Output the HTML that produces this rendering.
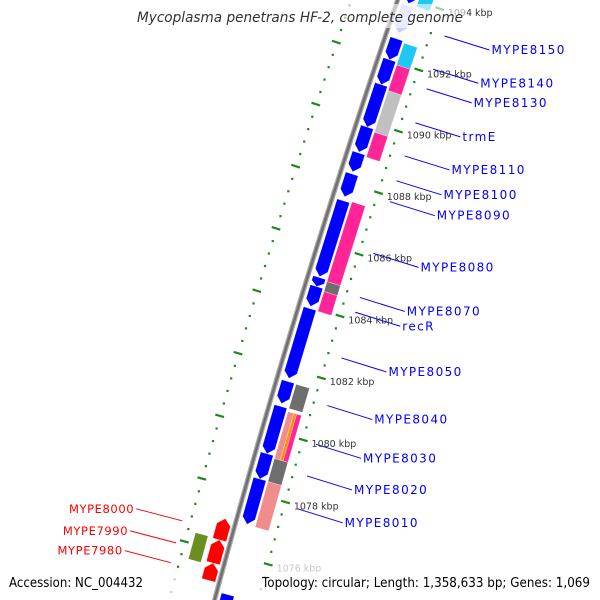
<!DOCTYPE html>
<html><head><meta charset="utf-8"><style>
html,body{margin:0;padding:0;background:#fff;width:600px;height:600px;overflow:hidden;}
svg{display:block;}
text{font-family:"DejaVu Sans","Liberation Sans",sans-serif;}
</style></head><body>
<svg id="map" width="600" height="600" viewBox="0 0 600 600" xmlns="http://www.w3.org/2000/svg">
<rect width="600" height="600" fill="#fff"/>
<g id="rings"></g>
<g id="backbone"></g>
<g id="features"></g>
<g id="labels"></g>
<g id="ticklabels"></g>
<rect x="133" y="4" width="334" height="24" fill="#fff" fill-opacity="0.6"/>
<text x="300" y="22" text-anchor="middle" font-size="14" font-style="italic" fill="#333" textLength="326" lengthAdjust="spacingAndGlyphs">Mycoplasma penetrans HF-2, complete genome</text>
<rect x="4" y="572" width="172" height="24" fill="#fff" fill-opacity="0.7"/>
<text x="9" y="587" font-size="13" fill="#000" textLength="134" lengthAdjust="spacingAndGlyphs">Accession: NC_004432</text>
<rect x="256" y="572" width="340" height="24" fill="#fff" fill-opacity="0.7"/>
<text x="262" y="587" font-size="13" fill="#000" textLength="328" lengthAdjust="spacingAndGlyphs">Topology: circular; Length: 1,358,633 bp; Genes: 1,069</text>
</svg>
<script>
// ---- data (kbp) ----
const blueStart = [1094.6,1093.78,1092.69,1092.01,1091.20,1089.82,1088.98,1088.30,1087.43,1084.95,1084.66,1083.95,1081.60,1080.80,1079.28,1078.47,1074.77];
const blueEnd   = [1093.84,1092.88,1092.01,1091.20,1089.82,1089.01,1088.37,1087.56,1084.98,1084.66,1084.02,1081.70,1080.89,1079.28,1078.47,1077.02,1074.2];
const blueColor = ["#0000ff","#ccccff","#0000ff","#0000ff","#0000ff","#0000ff","#0000ff","#0000ff","#0000ff","#0000ff","#0000ff","#0000ff","#0000ff","#0000ff","#0000ff","#0000ff","#0000ff"];
const catStart = [1094.6,1092.64,1091.93,1091.09,1089.74,1087.48,1084.90,1084.58,1081.59,1080.71,1079.20,1078.46];
const catEnd   = [1093.83,1091.93,1091.09,1089.74,1088.93,1084.90,1084.58,1083.94,1080.81,1079.20,1078.46,1077.00];
const catColor = ["#1ec8f0","#1ec8f0","#ff2596","#c0c0c0","#ff2596","#ff2596","#6e6e6e","#ff2596","#6e6e6e","#f08c8c","#6e6e6e","#f08c8c"];
const redStart = [1077.01,1076.33,1075.59];
const redEnd   = [1076.33,1075.59,1075.04];
const oliveStart = [1076.35];
const oliveEnd   = [1075.51];
const tickKbp = [1094,1092,1090,1088,1086,1084,1082,1080,1078,1076];
const labelNames = ["MYPE8150","MYPE8140","MYPE8130","trmE","MYPE8110","MYPE8100","MYPE8090","MYPE8080","MYPE8070","recR","MYPE8050","MYPE8040","MYPE8030","MYPE8020","MYPE8010"];
const labelKbp = [1093.25,1092.16,1091.52,1090.41,1089.33,1088.52,1087.84,1086.16,1084.73,1084.25,1082.77,1081.23,1079.98,1078.96,1077.90];
const leftNames = ["MYPE8000","MYPE7990","MYPE7980"];
const leftKbp = [1076.59,1075.89,1075.26];

// ---- geometry ----
const NS="http://www.w3.org/2000/svg";
const R=9140, CX=9043, CY=2966;
const PHI0=Math.atan2(0-CY,398-CX);
function pos(k,p){const s=-5.3+(1094-k)*32.46;const ph=PHI0-s/R;const r=R-p;return [CX+r*Math.cos(ph),CY+r*Math.sin(ph)];}
function pts(a){return a.map(q=>q[0].toFixed(2)+","+q[1].toFixed(2)).join(" ");}
function mk(tag,parent,attrs){const e=document.createElementNS(NS,tag);for(const k in attrs)e.setAttribute(k,attrs[k]);parent.appendChild(e);return e;}

// backbone
const bb=document.getElementById('backbone');
const bl=[];for(let k=1095.5;k>=1073.5;k-=0.25){bl.push(pos(k,0));}
const b1=mk('polyline',bb,{points:pts(bl),fill:'none',stroke:'#a8a8a8','stroke-width':5});


const b2=mk('polyline',bb,{points:pts(bl),fill:'none',stroke:'#707070','stroke-width':2.5});



// rings
const rg=document.getElementById('rings');
[[42,38,47],[-44,-40,-49]].forEach(([pd,a,b])=>{
  for(let i=0;i<=55;i++){const k=1095.2-i*0.4;
    const isTick=tickKbp.some(t=>Math.abs(t-k)<0.05);
    if(isTick){const p1=pos(k,a),p2=pos(k,b);
      const l=mk('line',rg,{x1:p1[0],y1:p1[1],x2:p2[0],y2:p2[1],stroke:'#1a8a1a','stroke-width':2.2});
      
      
    }else{const p=pos(k,pd);
      const d=mk('rect',rg,{x:p[0]-1,y:p[1]-1,width:2.2,height:2.2,fill:'#1a8a1a'});
      
      
    }}
});

// features (k1 = higher kbp, k2 = lower kbp)
const fg=document.getElementById('features');
function feat(k1,k2,pin,pout,col,dir,name){
  const len=Math.abs(k1-k2), ah=Math.min(0.2,len/2), pm=(pin+pout)/2;let P;
  if(dir>0){P=[pos(k1,pin),pos(k1,pout),pos(k2+ah,pout),pos(k2,pm),pos(k2+ah,pin)];}
  else if(dir<0){P=[pos(k2,pin),pos(k2,pout),pos(k1-ah,pout),pos(k1,pm),pos(k1-ah,pin)];}
  else{P=[pos(k1,pin),pos(k1,pout),pos(k2,pout),pos(k2,pin)];}
  const e=mk('polygon',fg,{points:pts(P),fill:col,stroke:'#fff','stroke-width':0.3});
  
  
}
blueStart.forEach((s,i)=>feat(s,blueEnd[i],5,18,blueColor[i],1,'reverse-gene'));
catStart.forEach((s,i)=>{
  if(i===9){feat(s,catEnd[i],20,26,'#f08c8c',0,'category-block');feat(s,catEnd[i],26,29,'#ff9000',0,'category-block');feat(s,catEnd[i],29,34,'#ff2596',0,'category-block');}
  else feat(s,catEnd[i],20,34,catColor[i],0,'category-block');
});
redStart.forEach((s,i)=>feat(s,redEnd[i],-4,-18,'#ff0000',-1,'forward-gene'));
oliveStart.forEach((s,i)=>feat(s,oliveEnd[i],-23,-36,'#6b8e23',0,'category-block-left'));

// tick labels
const tg=document.getElementById('ticklabels');
tickKbp.forEach(k=>{const p=pos(k,47);
  const t=mk('text',tg,{x:p[0]+4,y:p[1]+6,'font-size':9.5,fill:k===1076?'#c8c8c8':'#333'});
  
  
  t.textContent=k+' kbp';});

// feature labels
const lg=document.getElementById('labels');
labelNames.forEach((n,i)=>{const p=pos(labelKbp[i],56);const e=[p[0]+45,p[1]+14];
  const l=mk('line',lg,{x1:p[0],y1:p[1],x2:e[0],y2:e[1],stroke:'#0000ff','stroke-width':1});
  
  
  const t=mk('text',lg,{x:e[0]+2,y:e[1]+4,'font-size':12,fill:'#0000ff','letter-spacing':'1.4'});
  
  
  t.textContent=n;});
leftNames.forEach((n,i)=>{const p=pos(leftKbp[i],-52);const e=[p[0]-46,p[1]-12];
  const l=mk('line',lg,{x1:p[0],y1:p[1],x2:e[0],y2:e[1],stroke:'#ff0000','stroke-width':1});
  
  
  const t=mk('text',lg,{x:e[0]-2,y:e[1]+4,'font-size':11.5,fill:'#ff0000','text-anchor':'end','letter-spacing':'0.6'});
  
  
  t.textContent=n;});
</script>
</body></html>
